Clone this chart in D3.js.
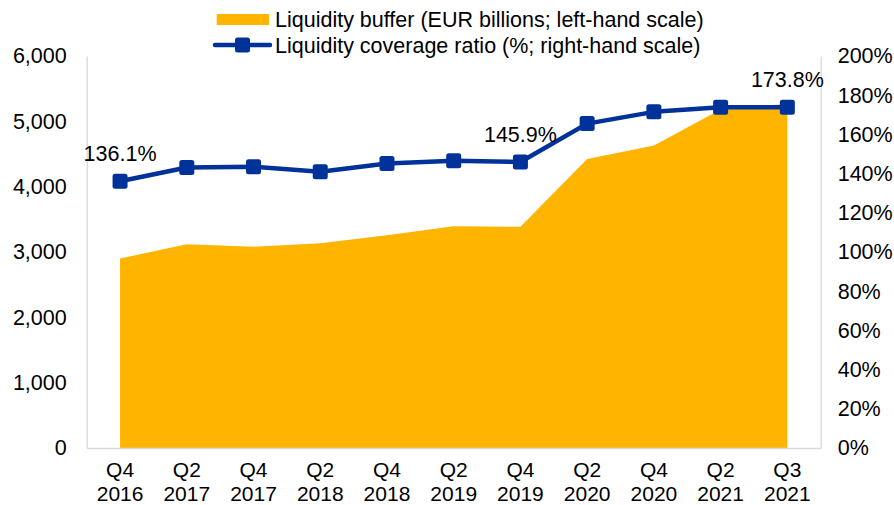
<!DOCTYPE html>
<html>
<head>
<meta charset="utf-8">
<script src="https://cdn.jsdelivr.net/npm/d3@7"></script>
<style>
    body { margin: 0; background: #fff; }
    svg text { font-family: "Liberation Sans", Arial, sans-serif; fill: #000; }
</style>
</head>
<body>
<svg id="chart" width="894" height="505"></svg>
<script>
// Chart data
const quarters = ['Q4 2016', 'Q2 2017', 'Q4 2017', 'Q2 2018', 'Q4 2018', 'Q2 2019',
                  'Q4 2019', 'Q2 2020', 'Q4 2020', 'Q2 2021', 'Q3 2021'];
const liquidityBuffer = [2900, 3120, 3080, 3135, 3255, 3395, 3385, 4425, 4630, 5180, 5270];
const coverageRatio = [136.1, 143.1, 143.5, 140.9, 145.2, 146.6, 145.9, 165.5, 171.5, 173.9, 173.8];
const labelledPoints = ['Q4 2016', 'Q4 2019', 'Q3 2021'];
const leftTicks = [0, 1000, 2000, 3000, 4000, 5000, 6000];
const rightTicks = [0, 20, 40, 60, 80, 100, 120, 140, 160, 180, 200];

const legendItems = ['Liquidity buffer (EUR billions; left-hand scale)',
                     'Liquidity coverage ratio (%; right-hand scale)'];

const orange = '#FFB400',
      navy = '#003299',
      axisGrey = '#d9d9d9';

const plotLeft = 86.7, plotRight = 820.7, plotTop = 56, plotBottom = 448;

const svg = d3.select('#chart');

// Scales
const x = d3.scaleBand().domain(quarters).range([plotLeft, plotRight]).padding(0);
const cx = d => x(d) + x.bandwidth() / 2;
const yLeft = d3.scaleLinear().domain([0, 6000]).range([plotBottom, plotTop]);
const yRight = d3.scaleLinear().domain([0, 200]).range([plotBottom, plotTop]);

// Area for liquidity buffer
const area = d3.area()
    .x((d, i) => cx(quarters[i]))
    .y0(yLeft(0))
    .y1(d => yLeft(d));

svg.append('path')
    .datum(liquidityBuffer)
    .attr('fill', orange)
    .attr('d', area);

// Axes
const fontSize = '21.5px';

const gLeft = svg.append('g')
    .attr('transform', 'translate(' + plotLeft + ',0)')
    .call(d3.axisLeft(yLeft).tickValues(leftTicks).tickFormat(d3.format(',')).tickSize(0).tickSizeOuter(0).tickPadding(20));

const gRight = svg.append('g')
    .attr('transform', 'translate(' + plotRight + ',0)')
    .call(d3.axisRight(yRight).tickValues(rightTicks).tickFormat(d => d + '%').tickSize(0).tickSizeOuter(0).tickPadding(17));

const gBottom = svg.append('g')
    .attr('transform', 'translate(0,' + plotBottom + ')')
    .call(d3.axisBottom(x).tickSize(0).tickSizeOuter(0).tickFormat(''));

[gLeft, gRight, gBottom].forEach(g => {
    g.select('.domain').attr('stroke', axisGrey).attr('stroke-width', 1.3);
    g.selectAll('text')
        .attr('font-size', fontSize)
        .attr('font-family', '"Liberation Sans", Arial, sans-serif')
        .attr('fill', '#000');
});

// Two-line category labels
gBottom.selectAll('.tick').each(function(d) {
    const parts = d.split(' ');
    const t = d3.select(this).append('text')
        .attr('text-anchor', 'middle')
        .attr('font-size', '21px')
        .attr('fill', '#000');
    t.append('tspan').attr('x', 0).attr('y', 29).text(parts[0]);
    t.append('tspan').attr('x', 0).attr('y', 52.5).text(parts[1]);
});

// Coverage ratio line
const line = d3.line()
    .x((d, i) => cx(quarters[i]))
    .y(d => yRight(d));

svg.append('path')
    .datum(coverageRatio)
    .attr('fill', 'none')
    .attr('stroke', navy)
    .attr('stroke-width', 4.5)
    .attr('stroke-linejoin', 'round')
    .attr('d', line);

const ms = 15;
svg.selectAll('.marker')
    .data(coverageRatio)
    .enter()
    .append('rect')
    .attr('class', 'marker')
    .attr('x', (d, i) => cx(quarters[i]) - ms / 2)
    .attr('y', d => yRight(d) - ms / 2)
    .attr('width', ms)
    .attr('height', ms)
    .attr('rx', 2.5)
    .attr('fill', navy);

// Data labels
svg.selectAll('.data-label')
    .data(quarters.filter(q => labelledPoints.includes(q)))
    .enter()
    .append('text')
    .attr('class', 'data-label')
    .attr('x', q => cx(q))
    .attr('y', q => yRight(coverageRatio[quarters.indexOf(q)]) - 20)
    .attr('text-anchor', 'middle')
    .attr('font-size', fontSize)
    .text(q => coverageRatio[quarters.indexOf(q)].toFixed(1) + '%');

// Legend
const legend = svg.append('g');
legend.append('rect')
    .attr('x', 216.7).attr('y', 14)
    .attr('width', 52.3).attr('height', 11)
    .attr('fill', orange);
legend.append('line')
    .attr('x1', 215).attr('x2', 270)
    .attr('y1', 45).attr('y2', 45)
    .attr('stroke', navy).attr('stroke-width', 4.5)
    .attr('stroke-linecap', 'round');
legend.append('rect')
    .attr('x', 242.5 - ms / 2).attr('y', 45 - ms / 2)
    .attr('width', ms).attr('height', ms)
    .attr('rx', 2.5)
    .attr('fill', navy);
legend.selectAll('.legend-text')
    .data(legendItems)
    .enter()
    .append('text')
    .attr('class', 'legend-text')
    .attr('x', 275)
    .attr('y', (d, i) => 26.5 + i * 26.5)
    .attr('font-size', fontSize)
    .text(d => d);
</script>
</body>
</html>
